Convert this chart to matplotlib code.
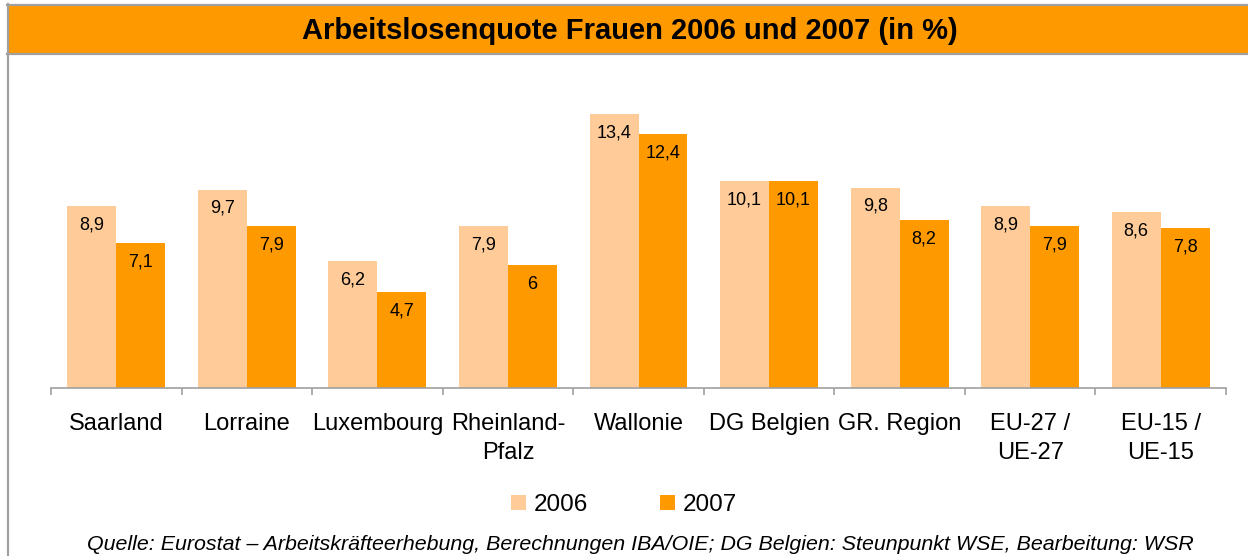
"""Arbeitslosenquote Frauen 2006 und 2007 - grouped bar chart."""

import matplotlib

matplotlib.use("Agg")

import matplotlib.pyplot as plt
import numpy as np
from matplotlib.lines import Line2D
from matplotlib.patches import Rectangle

REGIONS = [
    "Saarland", "Lorraine", "Luxembourg", "Rheinland-\nPfalz", "Wallonie",
    "DG Belgien", "GR. Region", "EU-27 /\nUE-27", "EU-15 /\nUE-15",
]
RATE_2006 = [8.9, 9.7, 6.2, 7.9, 13.4, 10.1, 9.8, 8.9, 8.6]
RATE_2007 = [7.1, 7.9, 4.7, 6.0, 12.4, 10.1, 8.2, 7.9, 7.8]
YEARS = ["2006", "2007"]

TITLE = "Arbeitslosenquote Frauen 2006 und 2007 (in %)"
SOURCE = ("Quelle: Eurostat \u2013 Arbeitskr\u00e4fteerhebung, Berechnungen IBA/OIE; "
          "DG Belgien: Steunpunkt WSE, Bearbeitung: WSR")

LIGHT = "#FFCC99"
DARK = "#FF9900"
GREY = "#A0A0A0"

plt.rcParams["font.family"] = ["Liberation Sans", "DejaVu Sans"]

W, H = 1248, 556
fig = plt.figure(figsize=(W / 100, H / 100), dpi=100)


def fx(px):
    return px / W


def fy(px):
    return 1 - px / H


# frame + orange title bar
fig.add_artist(Rectangle((fx(8), fy(54)), 1 - fx(8), fy(5) - fy(54),
                         transform=fig.transFigure, facecolor=DARK,
                         edgecolor="none"))
for y in (4.5, 53.5):
    fig.add_artist(Line2D([fx(7), 1], [fy(y), fy(y)], transform=fig.transFigure,
                          color=GREY, lw=1.6))
fig.add_artist(Line2D([fx(7.5), fx(7.5)], [0, fy(4)], transform=fig.transFigure,
                      color=GREY, lw=1.6))
fig.text(fx(630), fy(31), TITLE, ha="center", va="center",
         fontsize=21, fontweight="bold")

# plot area: baseline at y=388, x from 51 to 1226
ax = fig.add_axes([fx(51), 1 - 388 / H, fx(1226) - fx(51), 306.8 / H])
x = np.arange(len(REGIONS))
width = 0.375
bars_a = ax.bar(x - width / 2, RATE_2006, width, color=LIGHT, label=YEARS[0])
bars_b = ax.bar(x + width / 2, RATE_2007, width, color=DARK, label=YEARS[1])

for bars in (bars_a, bars_b):
    for rect in bars:
        val = rect.get_height()
        txt = f"{val:g}".replace(".", ",")
        ax.annotate(txt, (rect.get_x() + rect.get_width() / 2, val),
                    xytext=(0, -13.5), textcoords="offset points",
                    ha="center", va="center", fontsize=13)

ax.set_xlim(-0.5, len(REGIONS) - 0.5)
ax.set_ylim(0, 15)
ax.set_yticks([])
for side in ("left", "right", "top"):
    ax.spines[side].set_visible(False)
ax.spines["bottom"].set_color(GREY)
ax.spines["bottom"].set_linewidth(1.2)

ax.set_xticks(x, REGIONS, fontsize=17, linespacing=1.4)
ax.tick_params(axis="x", which="major", length=0, pad=18)
ax.set_xticks(np.arange(len(REGIONS) + 1) - 0.5, minor=True)
ax.tick_params(axis="x", which="minor", length=5, width=1.2, color=GREY)

fig.legend(handles=[bars_a, bars_b], labels=YEARS, loc="center",
           bbox_to_anchor=(fx(624), fy(505)), ncol=2, frameon=False,
           fontsize=17.5, handlelength=0.6, handleheight=0.6,
           handletextpad=0.3, columnspacing=3.0)

fig.text(fx(640), fy(544), SOURCE, ha="center", va="center",
         fontsize=15.4, style="italic")

fig.savefig("out.png", dpi=100)
